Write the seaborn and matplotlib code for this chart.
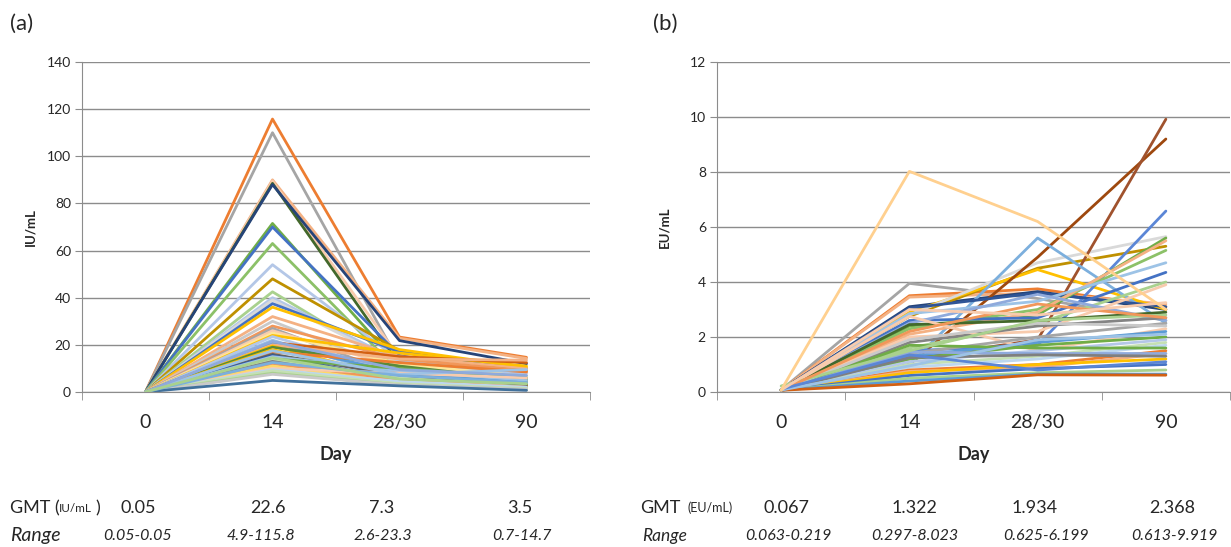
import pandas as pd
import matplotlib
matplotlib.use("Agg")
import matplotlib.pyplot as plt
import seaborn as sns

days = ["0", "14", "28/30", "90"]

# panel (a): anti-toxin IU/mL per subject
a_day0 = [0.05] * 50
a_day14 = [115.8, 110.0, 90.0, 89.5, 88.5, 88.0, 71.5, 70.0, 63.0, 54.0,
           48.0, 42.5, 40.0, 39.0, 37.5, 36.0, 32.0, 30.0, 28.0, 27.0,
           26.0, 25.0, 24.0, 23.5, 22.0, 21.0, 20.5, 20.0, 19.5, 19.0,
           18.0, 17.0, 16.0, 15.5, 15.0, 14.0, 13.5, 13.0, 12.0, 11.0,
           10.0, 9.5, 9.0, 8.0, 7.5, 4.9, 17.5, 21.5, 12.5, 14.5]
a_day28 = [23.3, 12.5, 22.8, 14.5, 11.5, 21.8, 11.0, 15.5, 8.5, 13.5,
           17.5, 10.0, 13.0, 12.0, 17.0, 18.0, 15.0, 9.0, 14.0, 7.0,
           10.5, 12.0, 16.5, 8.0, 6.0, 15.0, 8.0, 14.0, 5.5, 11.0,
           6.0, 12.5, 7.0, 5.0, 9.0, 10.0, 6.0, 4.0, 5.0, 4.0,
           8.0, 4.5, 3.5, 3.0, 3.0, 2.6, 7.5, 9.5, 7.0, 5.5]
a_day90 = [14.7, 5.0, 14.2, 8.0, 4.0, 12.0, 3.5, 6.0, 2.8, 8.0,
           9.0, 4.5, 7.0, 5.5, 10.0, 10.5, 10.0, 4.0, 9.0, 3.0,
           5.0, 6.5, 11.0, 3.0, 2.5, 12.5, 4.0, 13.5, 3.0, 5.0,
           3.0, 8.5, 3.0, 2.0, 5.0, 6.0, 2.0, 2.0, 2.0, 1.5,
           6.0, 2.0, 1.5, 1.0, 1.2, 0.7, 9.5, 7.0, 4.0, 3.5]
a_colors = ["#ED7D31", "#A5A5A5", "#F4B183", "#F8CBAD", "#43682B", "#264478", "#70AD47", "#4472C4", "#8CC168", "#B4C7E7",
            "#BF9000", "#A9D18E", "#B4C7E7", "#D9D9D9", "#4472C4", "#FFC000", "#F4B183", "#C9C9C9", "#F1975A", "#A5A5A5",
            "#F8CBAD", "#FFE699", "#FFC000", "#B4C7E7", "#9DC3E6", "#D26012", "#5B9BD5", "#F4B183", "#FFC000", "#5A8A39",
            "#FFC000", "#ED7D31", "#636363", "#335AA1", "#9DC3E6", "#70AD47", "#C5E0B4", "#848484", "#F1975A", "#FFD966",
            "#F8CBAD", "#BDD7EE", "#C5E0B4", "#A9D18E", "#C9C9C9", "#41719C", "#9DC3E6", "#8FAADC", "#7CAFDD", "#A9D18E"]

# panel (b): anti-PA EU/mL per subject
b_day0 = [0.07, 0.07, 0.07, 0.07, 0.07, 0.07, 0.07, 0.07, 0.07, 0.07,
          0.07, 0.07, 0.07, 0.07, 0.07, 0.07, 0.07, 0.07, 0.07, 0.07,
          0.07, 0.07, 0.07, 0.07, 0.07, 0.07, 0.07, 0.07, 0.07, 0.07,
          0.07, 0.07, 0.07, 0.07, 0.07, 0.063, 0.07, 0.07, 0.07, 0.219,
          0.063, 0.07, 0.07, 0.1, 0.07, 0.07]
b_day14 = [3.95, 3.5, 3.45, 3.1, 2.75, 2.9, 2.8, 1.0, 1.2, 1.0,
           1.5, 3.05, 2.4, 2.3, 2.1, 2.85, 2.6, 1.6, 2.0, 2.5,
           1.8, 2.45, 2.75, 1.4, 1.3, 1.2, 1.1, 1.0, 0.9, 0.8,
           0.75, 0.7, 0.6, 0.5, 0.4, 0.297, 1.7, 1.45, 1.9, 1.5,
           2.2, 1.25, 0.95, 1.35, 3.0, 8.023]
b_day28 = [3.4, 3.75, 3.6, 3.65, 4.5, 4.45, 4.7, 4.9, 1.9, 5.6,
           1.7, 3.6, 2.8, 3.0, 2.9, 3.3, 2.7, 2.5, 2.2, 3.55,
           2.4, 2.6, 1.5, 2.0, 1.8, 1.7, 1.5, 1.3, 1.2, 1.0,
           0.9, 1.0, 0.85, 0.7, 0.65, 0.625, 1.6, 1.4, 2.5, 2.6,
           3.2, 1.35, 1.9, 0.8, 2.8, 6.199]
b_day90 = [2.6, 3.1, 3.2, 3.0, 5.3, 3.0, 5.65, 9.2, 9.919, 2.5,
           6.58, 3.1, 5.6, 5.15, 5.5, 4.7, 4.35, 4.0, 3.9, 2.6,
           2.7, 2.9, 2.3, 2.5, 2.2, 2.0, 1.9, 1.8, 1.7, 1.5,
           1.4, 1.2, 1.0, 0.8, 0.65, 0.613, 1.6, 1.4, 2.4, 2.8,
           2.7, 1.3, 2.1, 1.1, 3.25, 3.0]
b_colors = ["#A5A5A5", "#ED7D31", "#F4B183", "#264478", "#BF9000", "#FFC000", "#D9D9D9", "#9E480E", "#A0522D", "#7CAFDD",
            "#5B86D6", "#2F5597", "#70AD47", "#8CC168", "#F4B183", "#9DC3E6", "#4472C4", "#A9D18E", "#F8CBAD", "#8FAADC",
            "#848484", "#43682B", "#F8CBAD", "#A5A5A5", "#5B9BD5", "#70AD47", "#B4C7E7", "#C5E0B4", "#BDD7EE", "#ED7D31",
            "#F4B183", "#FFC000", "#4472C4", "#A9D18E", "#5B9BD5", "#D26012", "#70AD47", "#8FAADC", "#C9C9C9", "#A9D18E",
            "#F1975A", "#7F7F7F", "#9DC3E6", "#5B86D6", "#F8CBAD", "#FFD08F"]

gmt_a = ["0.05", "22.6", "7.3", "3.5"]
range_a = ["0.05-0.05", "4.9-115.8", "2.6-23.3", "0.7-14.7"]
gmt_b = ["0.067", "1.322", "1.934", "2.368"]
range_b = ["0.063-0.219", "0.297-8.023", "0.625-6.199", "0.613-9.919"]


def long_form(cols):
    rows = []
    for i, vals in enumerate(zip(*cols)):
        for pos, v in enumerate(vals):
            rows.append({"subject": f"s{i:02d}", "pos": pos, "value": v})
    return pd.DataFrame(rows)


df_a = long_form([a_day0, a_day14, a_day28, a_day90])
df_b = long_form([b_day0, b_day14, b_day28, b_day90])

sns.set_style("white")
plt.rcParams["font.family"] = ["Lato", "DejaVu Sans"]

W, H = 1231, 547
fig = plt.figure(figsize=(W / 100, H / 100), dpi=100)
ax_a = fig.add_axes([82 / W, 1 - 392 / H, 508 / W, 330 / H])
ax_b = fig.add_axes([717 / W, 1 - 392 / H, 513 / W, 330 / H])

grid_c = "#8C8C8C"


def style_axis(ax, df, colors, ymax, ystep, ylab):
    pal = {f"s{i:02d}": c for i, c in enumerate(colors)}
    sns.lineplot(data=df, x="pos", y="value", hue="subject", palette=pal,
                 legend=False, linewidth=2, estimator=None, sort=False, ax=ax)
    ax.set_xlim(-0.5, 3.5)
    ax.set_ylim(0, ymax)
    ax.set_yticks(range(0, ymax + 1, ystep))
    ax.yaxis.grid(True, color=grid_c, linewidth=1)
    ax.set_axisbelow(True)
    for s in ["top", "right"]:
        ax.spines[s].set_visible(False)
    ax.spines["left"].set_color(grid_c)
    ax.spines["bottom"].set_color(grid_c)
    ax.set_xticks(range(4))
    ax.set_xticklabels(days, fontsize=14)
    ax.set_xticks([-0.5, 0.5, 1.5, 2.5, 3.5], minor=True)
    ax.tick_params(axis="x", which="major", length=0, pad=16)
    ax.tick_params(axis="x", which="minor", length=6, color=grid_c, direction="out", bottom=True)
    ax.tick_params(axis="y", length=5, color=grid_c, direction="out", left=True, labelsize=10, pad=3)
    ax.set_xlabel("Day", fontsize=13, fontweight="bold")
    ax.xaxis.set_label_coords(0.5, -0.165)
    ax.set_ylabel(ylab, fontsize=9.5, fontweight="bold")
    ax.yaxis.set_label_coords(-0.09, 0.5)


style_axis(ax_a, df_a, a_colors, 140, 20, "IU/mL")
style_axis(ax_b, df_b, b_colors, 12, 2, "EU/mL")

fig.text(10 / W, 1 - 24 / H, "(a)", fontsize=16, va="center", ha="left")
fig.text(653 / W, 1 - 24 / H, "(b)", fontsize=16, va="center", ha="left")

y_gmt = 1 - 508 / H
y_rng = 1 - 536 / H
# panel (a) summary rows
fig.text(10 / W, y_gmt, "GMT (", fontsize=13, va="center", ha="left")
fig.text(59 / W, y_gmt, "IU/mL", fontsize=8.5, va="center", ha="left")
fig.text(95 / W, y_gmt, ")", fontsize=13, va="center", ha="left")
fig.text(10 / W, y_rng, "Range", fontsize=14, style="italic", va="center", ha="left")
for x, g in zip([138, 268, 382, 520], gmt_a):
    fig.text(x / W, y_gmt, g, fontsize=13, va="center", ha="center")
for x, r in zip([138, 261, 383, 522], range_a):
    fig.text(x / W, y_rng, r, fontsize=11.5, style="italic", va="center", ha="center")

# panel (b) summary rows
fig.text(640 / W, y_gmt, "GMT", fontsize=13, va="center", ha="left")
fig.text(688 / W, y_gmt, "(EU/mL)", fontsize=9, va="center", ha="left")
fig.text(642 / W, y_rng, "Range", fontsize=12.5, style="italic", va="center", ha="left")
for x, g in zip([787, 914, 1035, 1172], gmt_b):
    fig.text(x / W, y_gmt, g, fontsize=13, va="center", ha="center")
for x, r in zip([788, 915, 1046, 1174], range_b):
    fig.text(x / W, y_rng, r, fontsize=11.5, style="italic", va="center", ha="center")

fig.savefig("out.png", dpi=100, facecolor="white")
